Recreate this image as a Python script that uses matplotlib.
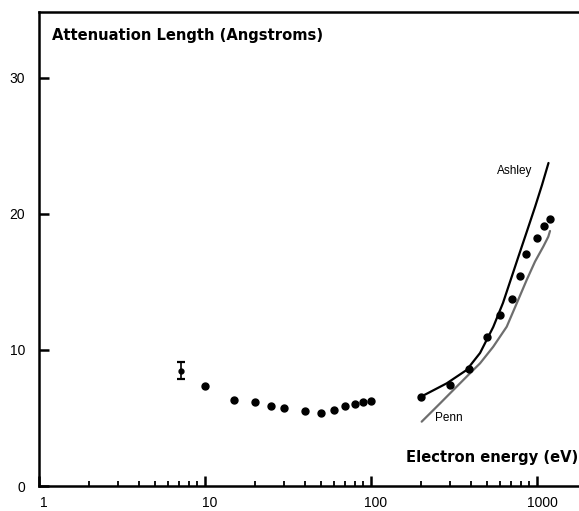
import matplotlib
matplotlib.use("Agg")
import matplotlib.pyplot as plt
from matplotlib.ticker import FixedLocator, NullFormatter
from matplotlib.transforms import ScaledTranslation

plt.rcParams['font.family'] = ['Liberation Sans', 'DejaVu Sans']

# Measured data points (low energy)
low_energy = [10, 15, 20, 25, 30, 40, 50, 60, 70, 80, 90, 100]
low_length = [7.33, 6.3, 6.15, 5.86, 5.71, 5.51, 5.34, 5.59, 5.86, 6.03, 6.15, 6.27]

# Point with error bar
err_energy = [7.14]
err_length = [8.48]
err_low = [0.58]
err_high = [0.67]

# Measured data points (high energy)
high_energy = [200, 300, 390, 500, 600, 710, 790, 860, 1000, 1100, 1200]
high_length = [6.52, 7.43, 8.63, 10.96, 12.57, 13.72, 15.42, 17.04, 18.21, 19.12, 19.61]

# Ashley calculation
ashley_energy = [197, 286, 377, 454, 545, 624, 697, 779, 871, 973, 1072, 1173]
ashley_length = [6.52, 7.55, 8.53, 9.78, 11.69, 13.46, 15.22, 16.99, 18.75, 20.51, 22.13, 23.75]

# Penn calculation
penn_energy = [202, 261, 328, 395, 454, 545, 657, 755, 867, 973, 1091, 1170, 1198]
penn_length = [4.73, 6.08, 7.30, 8.29, 9.02, 10.24, 11.71, 13.43, 15.15, 16.5, 17.6, 18.33, 18.75]

y_ticks = [0, 10, 20, 30]
x_ticks = [1, 10, 100, 1000]
x_tick_labels = ["1", "10", "100", "1000"]

fig = plt.figure(figsize=(5.79, 5.11), dpi=100)
ax = fig.add_axes([39/579, 25/511, 1 - 39/579, 474/511])

ax.set_xscale('log')
ax.set_xlim(1.0, 1791)
ax.set_ylim(0, 34.85)

ax.plot(ashley_energy, ashley_length, color='black', lw=1.6, solid_capstyle='round')
ax.plot(penn_energy, penn_length, color='#6e6e6e', lw=1.6, solid_capstyle='round')

ax.plot(low_energy, low_length, 'o', color='black', ms=5, mec='black')
ax.plot(high_energy, high_length, 'o', color='black', ms=5, mec='black')
ax.errorbar(err_energy, err_length, yerr=[err_low, err_high], fmt='o', color='black',
            ms=3.5, capsize=3, elinewidth=1.2, capthick=1.6)

ax.text(574, 23.18, "Ashley", fontsize=8.5, va='center', ha='left')
ax.text(243, 5.02, "Penn", fontsize=8.5, va='center', ha='left')

ax.text(1.2, 33.1, "Attenuation Length (Angstroms)", fontsize=10.6, fontweight='bold',
        va='center', ha='left', family='DejaVu Sans')
ax.text(1780, 2.06, "Electron energy (eV)", fontsize=10.6, fontweight='bold',
        va='center', ha='right', family='DejaVu Sans')

for side in ['left', 'bottom', 'top']:
    ax.spines[side].set_linewidth(1.8)
ax.spines['right'].set_visible(False)

ax.yaxis.set_major_locator(FixedLocator(y_ticks))
ax.set_yticklabels([str(v) for v in y_ticks])
ax.tick_params(axis='y', which='major', direction='in', length=7, width=1.8,
               labelsize=10, pad=10)
ax.tick_params(axis='y', which='minor', left=False)

ax.xaxis.set_major_locator(FixedLocator(x_ticks))
ax.set_xticklabels(x_tick_labels)
minor = [m * d for d in [1, 10, 100] for m in range(2, 10)]
ax.xaxis.set_minor_locator(FixedLocator(minor))
ax.xaxis.set_minor_formatter(NullFormatter())
ax.tick_params(axis='x', which='major', direction='in', length=7, width=1.8,
               labelsize=10, pad=7.5)
ax.tick_params(axis='x', which='minor', direction='in', length=3.5, width=1.3)

shift = ScaledTranslation(5/100, 0, fig.dpi_scale_trans)
for lab in ax.get_xticklabels():
    lab.set_transform(lab.get_transform() + shift)

fig.savefig("out.png", dpi=100)
